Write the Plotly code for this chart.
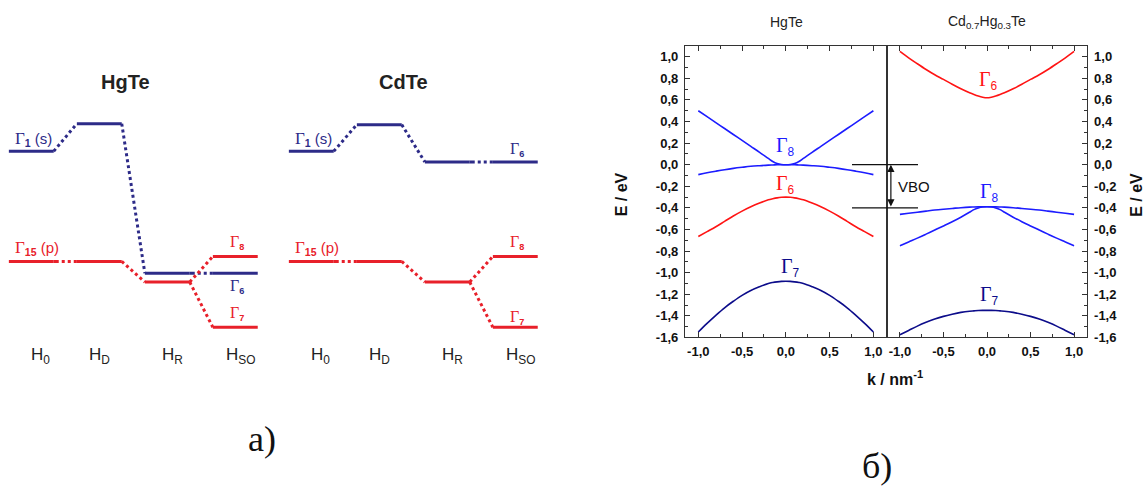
import plotly.graph_objects as go

W, H = 1145, 494

# ---------------- band dispersion data (k in nm^-1, E in eV) ----------------
k = [-1.0, -0.9, -0.8, -0.7, -0.6, -0.5, -0.4, -0.3, -0.2, -0.15, -0.1, -0.05, 0.0,
     0.05, 0.1, 0.15, 0.2, 0.3, 0.4, 0.5, 0.6, 0.7, 0.8, 0.9, 1.0]

# HgTe
hgte_g8_upper = [0.500, 0.445, 0.390, 0.335, 0.280, 0.225, 0.170, 0.115, 0.058, 0.030, 0.011, 0.002, 0.0,
                 0.002, 0.011, 0.030, 0.058, 0.115, 0.170, 0.225, 0.280, 0.335, 0.390, 0.445, 0.500]
hgte_g8_lower = [-0.092, -0.075, -0.060, -0.046, -0.034, -0.024, -0.015, -0.009, -0.004, -0.0025, -0.001, -0.0003, 0.0,
                 -0.0003, -0.001, -0.0025, -0.004, -0.009, -0.015, -0.024, -0.034, -0.046, -0.060, -0.075, -0.092]
hgte_g6 = [-0.665, -0.620, -0.575, -0.525, -0.475, -0.430, -0.390, -0.355, -0.325, -0.315, -0.307, -0.302, -0.300,
           -0.302, -0.307, -0.315, -0.325, -0.355, -0.390, -0.430, -0.475, -0.525, -0.575, -0.620, -0.665]
hgte_g7 = [-1.550, -1.470, -1.395, -1.325, -1.265, -1.210, -1.165, -1.130, -1.100, -1.091, -1.085, -1.081, -1.080,
           -1.081, -1.085, -1.091, -1.100, -1.130, -1.165, -1.210, -1.265, -1.325, -1.395, -1.470, -1.550]

# Cd0.7Hg0.3Te
cdhg_g6 = [1.050, 0.990, 0.935, 0.882, 0.833, 0.790, 0.745, 0.703, 0.666, 0.650, 0.636, 0.625, 0.620,
           0.625, 0.636, 0.650, 0.666, 0.703, 0.745, 0.790, 0.833, 0.882, 0.935, 0.990, 1.050]
cdhg_g8_heavy = [-0.460, -0.450, -0.440, -0.430, -0.420, -0.412, -0.405, -0.398, -0.393, -0.392, -0.391, -0.390, -0.390,
                 -0.390, -0.391, -0.392, -0.393, -0.398, -0.405, -0.412, -0.420, -0.430, -0.440, -0.450, -0.460]
cdhg_g8_light = [-0.750, -0.715, -0.680, -0.643, -0.605, -0.567, -0.528, -0.486, -0.440, -0.416, -0.401, -0.392, -0.390,
                 -0.392, -0.401, -0.416, -0.440, -0.486, -0.528, -0.567, -0.605, -0.643, -0.680, -0.715, -0.750]
cdhg_g7 = [-1.575, -1.535, -1.495, -1.460, -1.430, -1.405, -1.385, -1.368, -1.357, -1.354, -1.351, -1.349, -1.349,
           -1.349, -1.351, -1.354, -1.357, -1.368, -1.385, -1.405, -1.430, -1.460, -1.495, -1.535, -1.575]

# valence band offset markers (eV)
vbo_levels = [0.0, -0.4]

# axis ticks
y_tickvals = [-1.6, -1.4, -1.2, -1.0, -0.8, -0.6, -0.4, -0.2, 0.0, 0.2, 0.4, 0.6, 0.8, 1.0]
y_ticktext = ["-1,6", "-1,4", "-1,2", "-1,0", "-0,8", "-0,6", "-0,4", "-0,2",
              "0,0", "0,2", "0,4", "0,6", "0,8", "1,0"]
y_minor = [-1.5, -1.3, -1.1, -0.9, -0.7, -0.5, -0.3, -0.1, 0.1, 0.3, 0.5, 0.7, 0.9]
x_tickvals = [-1.0, -0.5, 0.0, 0.5, 1.0]
x_ticktext = ["-1,0", "-0,5", "0,0", "0,5", "1,0"]
x_minor = [-0.75, -0.25, 0.25, 0.75]

# ---------------- energy level scheme (arbitrary units) ----------------
stage_labels = ["H<sub>0</sub>", "H<sub>D</sub>", "H<sub>R</sub>", "H<sub>SO</sub>"]
hgte_s_levels = [1.12, 1.40, -0.12, -0.12]
hgte_p_levels = [0.00, 0.00, -0.21]
hgte_p_so = [0.05, -0.67]          # Gamma8, Gamma7
cdte_s_levels = [1.12, 1.39, 1.01, 1.01]
cdte_p_levels = [0.00, 0.00, -0.21]
cdte_p_so = [0.05, -0.67]

# ---------------- styling ----------------
BLUE = "#1c1cff"
RED = "#ff1414"
NAVY = "#0c0c8a"
S_COL = "#2d2b88"
P_COL = "#e8202a"
AX = "#333333"
SANS = "Liberation Sans"
SERIF = "Liberation Serif"


def px(x):
    return x / W


def py(y):
    return 1 - y / H


def gamma(sub, size, sub_bold=False):
    s = f"<b>{sub}</b>" if sub_bold else sub
    return (f'<span style="font-family:{SERIF};font-size:{size}px">Γ</span>'
            f'<sub><span style="font-family:{SANS}">{s}</span></sub>')


def paper_text(text, x, y, size, color="#111111", family=SANS, angle=0):
    return dict(text=text, x=px(x), y=py(y), xref="paper", yref="paper",
                xanchor="center", yanchor="middle", showarrow=False, textangle=angle,
                font=dict(family=family, size=size, color=color))


fig = go.Figure()

# ---------------- panel (b): band structures ----------------
curves = [
    ("x", "y", hgte_g8_upper, BLUE),
    ("x", "y", hgte_g8_lower, BLUE),
    ("x", "y", hgte_g6, RED),
    ("x", "y", hgte_g7, NAVY),
    ("x2", "y2", cdhg_g6, RED),
    ("x2", "y2", cdhg_g8_heavy, BLUE),
    ("x2", "y2", cdhg_g8_light, BLUE),
    ("x2", "y2", cdhg_g7, NAVY),
]
for xa, ya, e, col in curves:
    fig.add_trace(go.Scatter(x=k, y=e, xaxis=xa, yaxis=ya, mode="lines",
                             line=dict(color=col, width=1.6, shape="spline", smoothing=1.0),
                             hoverinfo="skip", showlegend=False))

# ---------------- panel (a): level schemes ----------------
HW = 0.33  # half-width of a level bar in stage units
DOT = "3px,3px"
DASHDOT = "5px,3px,3px,3px,3px,3px"


def level_scheme(xa, ya, s_levels, p_levels, p_so):
    for levels, so, col in ((s_levels, None, S_COL), (p_levels, p_so, P_COL)):
        bars_x, bars_y = [], []
        dot_x, dot_y = [], []
        dd_x, dd_y = [], []
        for i, e in enumerate(levels):
            bars_x += [i - HW, i + HW, None]
            bars_y += [e, e, None]
        for i in range(len(levels) - 1):
            seg_x = [i + HW, i + 1 - HW, None]
            seg_y = [levels[i], levels[i + 1], None]
            if levels[i] == levels[i + 1]:
                dd_x += seg_x
                dd_y += seg_y
            else:
                dot_x += seg_x
                dot_y += seg_y
        if so is not None:
            i = len(levels) - 1
            for e in so:
                bars_x += [i + 1 - HW, i + 1 + HW, None]
                bars_y += [e, e, None]
                dot_x += [i + HW, i + 1 - HW, None]
                dot_y += [levels[i], e, None]
        for xs, ys, dash in ((bars_x, bars_y, "solid"), (dot_x, dot_y, DOT), (dd_x, dd_y, DASHDOT)):
            if xs:
                fig.add_trace(go.Scatter(x=xs, y=ys, xaxis=xa, yaxis=ya, mode="lines",
                                         line=dict(color=col, width=3, dash=dash),
                                         hoverinfo="skip", showlegend=False,
                                         connectgaps=False))


level_scheme("x3", "y3", hgte_s_levels, hgte_p_levels, hgte_p_so)
level_scheme("x4", "y4", cdte_s_levels, cdte_p_levels, cdte_p_so)

# ---------------- axes ----------------
tickfont = dict(family=SANS, size=13, color="#111111", weight="bold")
xcommon = dict(range=[-1.152, 1.152], tickmode="array", tickvals=x_tickvals, ticktext=x_ticktext,
               ticks="inside", ticklen=5, tickwidth=1.2, tickcolor=AX, showline=True,
               linecolor=AX, linewidth=1.3, mirror="ticks", showgrid=False, zeroline=False,
               tickfont=tickfont, fixedrange=True, ticklabelstandoff=2,
               minor=dict(tickmode="array", tickvals=x_minor, ticks="inside", ticklen=3,
                          tickwidth=1.2, tickcolor=AX, showgrid=False))
ycommon = dict(range=[-1.6, 1.1], domain=[py(343), py(46.7)], tickmode="array",
               tickvals=y_tickvals, ticktext=y_ticktext, ticks="inside", ticklen=5,
               tickwidth=1.2, tickcolor=AX, showline=True, linecolor=AX, linewidth=1.3,
               mirror=True, showgrid=False, zeroline=False, tickfont=tickfont,
               fixedrange=True,
               minor=dict(tickmode="array", tickvals=y_minor, ticks="inside", ticklen=3,
                          tickwidth=1.2, tickcolor=AX, showgrid=False))

hidden = dict(visible=False, fixedrange=True, showgrid=False, zeroline=False)
stage_range = [-0.4603, 3.5397]
level_range = [-1.093, 1.957]
level_domain = [py(375), py(70)]

fig.update_layout(
    width=W, height=H,
    margin=dict(l=0, r=0, t=0, b=0),
    paper_bgcolor="white", plot_bgcolor="white",
    showlegend=False,
    xaxis=dict(domain=[px(685), px(886.7)], anchor="y", **xcommon),
    xaxis2=dict(domain=[px(886.7), px(1087.3)], anchor="y2", **xcommon),
    yaxis=dict(anchor="x", side="left", ticklabelstandoff=3, **ycommon),
    yaxis2=dict(anchor="x2", side="right", ticklabelstandoff=3, **ycommon),
    xaxis3=dict(domain=[px(0), px(272)], range=stage_range, anchor="y3", **hidden),
    yaxis3=dict(domain=level_domain, range=level_range, anchor="x3", **hidden),
    xaxis4=dict(domain=[px(280), px(552)], range=stage_range, anchor="y4", **hidden),
    yaxis4=dict(domain=level_domain, range=level_range, anchor="x4", **hidden),
)

ann = []

# panel (b) texts
ann.append(paper_text("HgTe", 786.7, 22.7, 14, "#222222"))
ann.append(paper_text("Cd<sub>0.7</sub>Hg<sub>0.3</sub>Te", 986.7, 22.7, 14, "#222222"))
ann.append(paper_text("<b>E / eV</b>", 621.5, 198, 16, angle=-90))
ann.append(paper_text("<b>E / eV</b>", 1137, 198, 16, angle=-90))
ann.append(paper_text("<b>k / nm<sup>-1</sup></b>", 895, 384, 16))

band_labels = [
    ("x", "y", 0.0, 0.165, "8", BLUE),
    ("x", "y", 0.0, -0.185, "6", RED),
    ("x", "y", 0.05, -0.95, "7", NAVY),
    ("x2", "y2", 0.02, 0.78, "6", RED),
    ("x2", "y2", 0.03, -0.26, "8", BLUE),
    ("x2", "y2", 0.03, -1.21, "7", NAVY),
]
for xa, ya, xv, yv, sub, col in band_labels:
    ann.append(dict(text=gamma(sub, 20), x=xv, y=yv, xref=xa, yref=ya, showarrow=False,
                    xanchor="center", yanchor="middle",
                    font=dict(family=SANS, size=17, color=col)))

# valence band offset
shapes = []
for lvl in vbo_levels:
    shapes.append(dict(type="line", xref="paper", yref="y", x0=px(852), x1=px(918),
                       y0=lvl, y1=lvl, line=dict(color="#111111", width=1.3)))
vbo_k = -1.104
ann.append(dict(text="", x=vbo_k, y=vbo_levels[0], ax=vbo_k, ay=vbo_levels[1],
                xref="x2", yref="y2", axref="x2", ayref="y2", showarrow=True,
                arrowhead=2, startarrowhead=2, arrowside="end+start", arrowsize=1.2,
                arrowwidth=1.2, arrowcolor="#111111", standoff=0, startstandoff=0))
ann.append(dict(text="VBO", x=-1.04, y=-0.2, xref="x2", yref="y2", xanchor="left",
                yanchor="middle", showarrow=False,
                font=dict(family=SANS, size=15, color="#111111")))

# panel (a) texts
stage_nudge = [0.14, 0.0, 0.08, 0.07]
for xa, ya, title, tx in (("x3", "y3", "HgTe", 1.378), ("x4", "y4", "CdTe", 1.35)):
    ann.append(dict(text=f"<b>{title}</b>", x=tx, y=1.824, xref=xa, yref=ya, showarrow=False,
                    xanchor="center", yanchor="middle",
                    font=dict(family=SANS, size=20, color="#222222")))
    for i, lab in enumerate(stage_labels):
        ann.append(dict(text=lab, x=i + stage_nudge[i], y=-0.96, xref=xa, yref=ya,
                        xanchor="center", yanchor="middle", showarrow=False,
                        font=dict(family=SANS, size=17, color="#222222")))
    ann.append(dict(text=gamma("1", 17, True) + " (s)", x=-0.27, y=1.24, xref=xa, yref=ya,
                    xanchor="left", yanchor="middle", showarrow=False,
                    font=dict(family=SANS, size=15, color=S_COL)))
    ann.append(dict(text=gamma("15", 17, True) + " (p)", x=-0.27, y=0.14, xref=xa, yref=ya,
                    xanchor="left", yanchor="middle", showarrow=False,
                    font=dict(family=SANS, size=15, color=P_COL)))

scheme_labels = [
    ("x3", "y3", 0.19, "8", P_COL),
    ("x3", "y3", -0.26, "6", S_COL),
    ("x3", "y3", -0.53, "7", P_COL),
    ("x4", "y4", 1.14, "6", S_COL),
    ("x4", "y4", 0.19, "8", P_COL),
    ("x4", "y4", -0.57, "7", P_COL),
]
for xa, ya, yv, sub, col in scheme_labels:
    ann.append(dict(text=gamma(sub, 16, True), x=3.02, y=yv, xref=xa, yref=ya, showarrow=False,
                    xanchor="center", yanchor="middle",
                    font=dict(family=SANS, size=13, color=col)))

# panel captions
ann.append(paper_text("а)", 262, 446, 36, family=SERIF))
ann.append(paper_text("б)", 877, 474, 36, family=SERIF))

fig.update_layout(annotations=ann, shapes=shapes)
fig.write_html("out.html")
